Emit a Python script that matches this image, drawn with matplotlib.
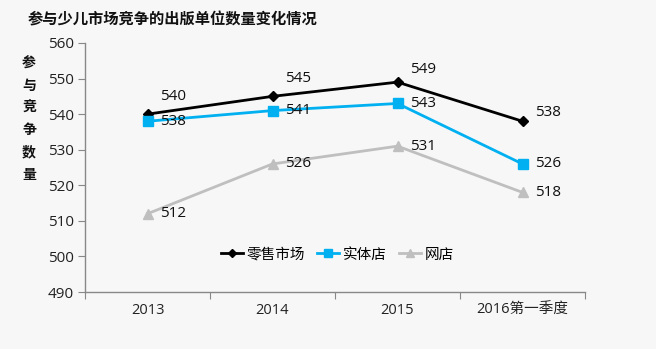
import matplotlib
matplotlib.use("Agg")
import matplotlib.pyplot as plt
from matplotlib.ticker import FixedLocator, NullFormatter

plt.rcParams['font.family'] = ['Open Sans', 'Noto Sans CJK SC', 'DejaVu Sans']

categories = ["2013", "2014", "2015", "2016第一季度"]
retail = [540, 545, 549, 538]
physical = [538, 541, 543, 526]
online = [512, 526, 531, 518]
series_names = ["零售市场", "实体店", "网店"]
title = "参与少儿市场竞争的出版单位数量变化情况"
ylabel = "参\n与\n竞\n争\n数\n量"

bg = "#f7f7f7"
fig = plt.figure(figsize=(6.56, 3.49), dpi=100, facecolor=bg)
ax = fig.add_axes([85/656, 1-292/349, 500/656, 249/349], facecolor=bg)

x = list(range(len(categories)))
ax.plot(x, retail, color="#000000", lw=2, marker="D", ms=5, label=series_names[0])
ax.plot(x, physical, color="#00b0f0", lw=2, marker="s", ms=7, label=series_names[1])
ax.plot(x, online, color="#bfbfbf", lw=2, marker="^", ms=7, label=series_names[2])

lab_kw = dict(textcoords="offset points", fontsize=11, color="#111111", ha="left", va="center")
retail_dy = [13, 13, 9, 6]
for i, v in enumerate(retail):
    ax.annotate(str(v), (i, v), xytext=(9, retail_dy[i]), **lab_kw)
for i, v in enumerate(physical):
    ax.annotate(str(v), (i, v), xytext=(9, 0), **lab_kw)
for i, v in enumerate(online):
    ax.annotate(str(v), (i, v), xytext=(9, 0), **lab_kw)

ax.set_xlim(-0.5, 3.5)
ax.set_ylim(490, 560)
ax.set_yticks(range(490, 561, 10))
ax.xaxis.set_major_locator(FixedLocator([-0.5, 0.5, 1.5, 2.5, 3.5]))
ax.xaxis.set_major_formatter(NullFormatter())
ax.xaxis.set_minor_locator(FixedLocator(x))
ax.set_xticklabels(categories, minor=True)
ax.tick_params(axis="x", which="major", length=5, color="#888888", direction="out")
ax.tick_params(axis="x", which="minor", length=0, labelsize=10.5, colors="#222222", pad=8)
ax.tick_params(axis="y", length=5, color="#888888", labelsize=11, labelcolor="#222222", pad=3)
for s in ["top", "right"]:
    ax.spines[s].set_visible(False)
for s in ["left", "bottom"]:
    ax.spines[s].set_color("#888888")
    ax.spines[s].set_linewidth(1)

leg = ax.legend(loc="center", bbox_to_anchor=(0.505, 0.149), ncol=3, frameon=False,
                fontsize=10.5, handlelength=1.5, handletextpad=0.3, columnspacing=0.8,
                markerscale=0.75)

fig.text(28/656, 1-20/349, title, fontsize=11, fontweight="bold", ha="left", va="center", color="#111111")
fig.text(29/656, 1-119/349, ylabel, fontsize=10, fontweight="bold", ha="center", va="center",
         linespacing=1.75, color="#111111")

fig.savefig("out.png", dpi=100, facecolor=bg)
